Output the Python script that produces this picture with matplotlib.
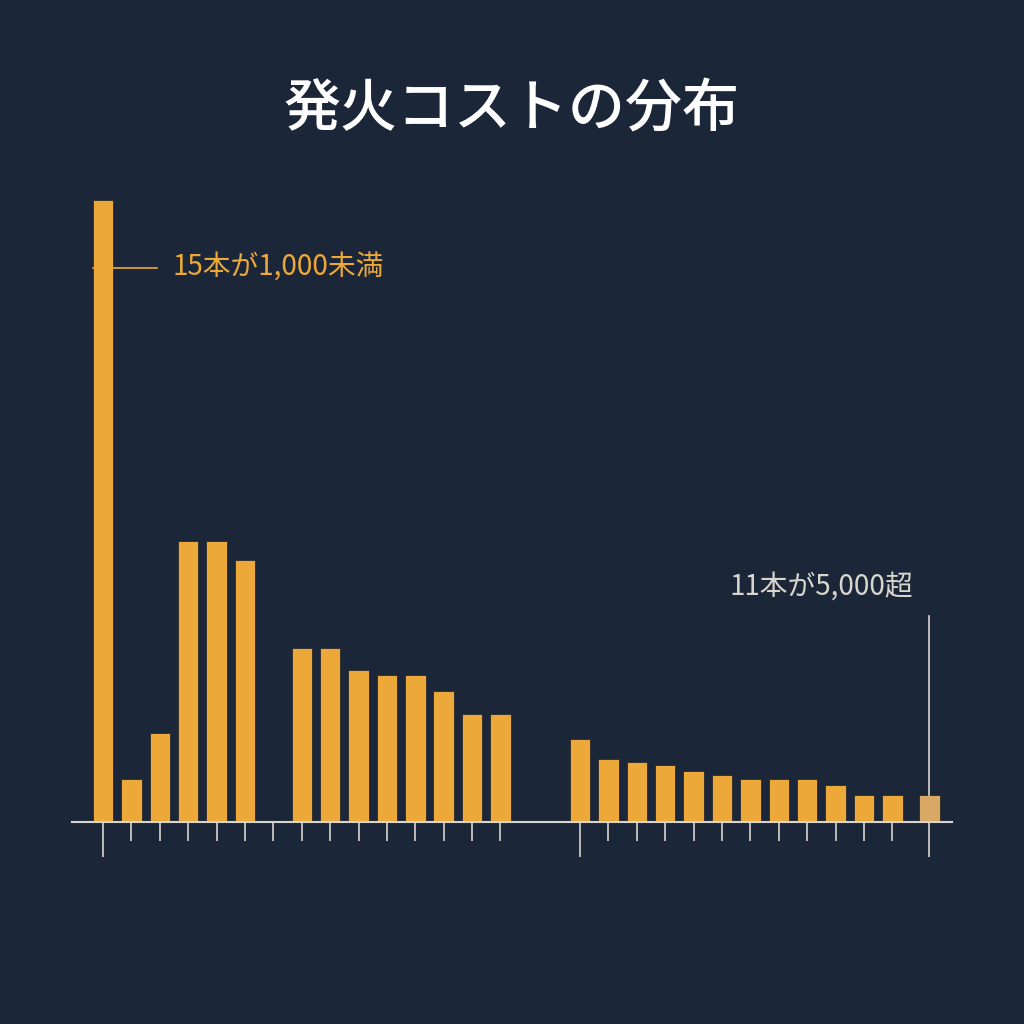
import matplotlib.pyplot as plt
import numpy as np

plt.rcParams['font.family'] = ['Noto Sans CJK JP', 'DejaVu Sans']

# bin positions (gap after the first group, last bin is the overflow bin)
pos_a = [0, 1, 2, 3, 4, 5, 7, 8, 9, 10, 11, 12, 13, 14]
val_a = [62.2, 4.3, 8.9, 28.1, 28.1, 26.2, 17.4, 17.4, 15.2, 14.7, 14.7, 13.1, 10.8, 10.8]
pos_b = [16.8 + i for i in range(12)]
val_b = [8.3, 6.3, 6.0, 5.7, 5.1, 4.7, 4.3, 4.3, 4.3, 3.7, 2.7, 2.7]
pos_over = 29.1
val_over = 2.7

ticks_small = list(range(1, 15)) + [16.8 + i for i in range(1, 12)]
ticks_long = [0, 16.8, 29.1]

bg = '#1c2639'
orange = '#eda83a'
over_col = '#d9a865'
light = '#d8d5cc'

fig = plt.figure(figsize=(10.24, 10.24), dpi=100, facecolor=bg)
ax = fig.add_axes([72/1024, 1-822/1024, 880/1024, 622/1024])
ax.set_facecolor(bg)

ax.bar(pos_a + pos_b, val_a + val_b, width=0.72, color=orange, edgecolor='#2a2a2a', linewidth=0.6)
ax.bar([pos_over], [val_over], width=0.72, color=over_col, edgecolor='#2a2a2a', linewidth=0.6)

ax.set_xlim(-1.09, 29.9)
ax.set_ylim(0, 62.2)
for s in ['top', 'right', 'left']:
    ax.spines[s].set_visible(False)
ax.spines['bottom'].set_color(light)
ax.spines['bottom'].set_linewidth(1.5)
ax.set_yticks([])
ax.set_xticks(ticks_small)
ax.set_xticks(ticks_long, minor=True)
ax.tick_params(axis='x', which='major', length=14, width=1.2, color=light, labelbottom=False)
ax.tick_params(axis='x', which='minor', length=25, width=1.2, color=light, labelbottom=False)

# annotations
ax.plot([-0.35, 1.9], [55.4, 55.4], color=orange, lw=1.2, clip_on=False)
ax.text(2.45, 55.4, '15本が1,000未満', color=orange, fontsize=20, va='center', ha='left')
ax.plot([pos_over, pos_over], [val_over, 20.6], color=light, lw=1.2)
ax.text(25.3, 23.5, '11本が5,000超', color=light, fontsize=20, va='center', ha='center')

fig.text(0.5, 1-110/1024, '発火コストの分布', color='white', fontsize=41,
         fontweight='medium', ha='center', va='center')

fig.savefig('out.png', dpi=100, facecolor=bg)
